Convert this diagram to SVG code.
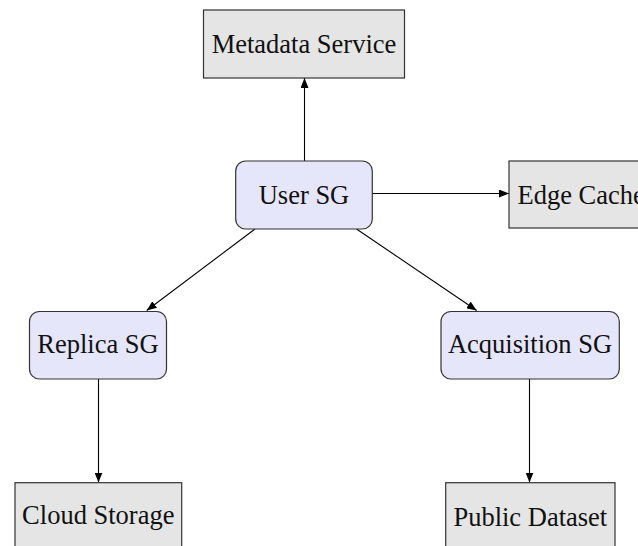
<svg xmlns="http://www.w3.org/2000/svg" width="638" height="546" viewBox="0 0 638 546">
<style>
.box{fill:#e5e5e5;stroke:#333;stroke-width:1.2}
.sg{fill:#e6e6fa;stroke:#333;stroke-width:1.2}
.t{font-family:"Liberation Serif","Times New Roman",serif;font-size:26.5px;fill:#111;text-anchor:middle}
.e{stroke:#000;stroke-width:1.1;fill:none;marker-end:url(#ah)}
</style>
<defs>
<marker id="ah" viewBox="0 0 10 8" refX="10" refY="4" markerWidth="10" markerHeight="8" markerUnits="userSpaceOnUse" orient="auto">
<path d="M0,0 L10,4 L0,8 Z" fill="#000"/>
</marker>
</defs>
<rect width="638" height="546" fill="#fff"/>
<g id="connectors">
<line class="e" x1="304.5" y1="161" x2="304.5" y2="78"/>
<line class="e" x1="372" y1="193.5" x2="509" y2="193.5"/>
<line class="e" x1="255" y1="229" x2="146.7" y2="310.5"/>
<line class="e" x1="356.5" y1="229" x2="476.7" y2="310.5"/>
<line class="e" x1="98.5" y1="379" x2="98.5" y2="482.5"/>
<line class="e" x1="529.5" y1="379" x2="529.5" y2="482.5"/>
</g>
<g id="metadata">
<rect class="box" x="203.5" y="10" width="201" height="68"/>
<text class="t" x="304" y="53">Metadata Service</text>
</g>
<g id="user">
<rect class="sg" x="235.7" y="161" width="136.6" height="68" rx="10"/>
<text class="t" x="304" y="204">User SG</text>
</g>
<g id="edge">
<rect class="box" x="509" y="161" width="160" height="67"/>
<text class="t" x="517.5" y="204" style="text-anchor:start">Edge Cache</text>
</g>
<g id="replica">
<rect class="sg" x="29.5" y="311.5" width="137" height="67.5" rx="10"/>
<text class="t" x="98" y="353">Replica SG</text>
</g>
<g id="acquisition">
<rect class="sg" x="441" y="311.5" width="178.3" height="67.5" rx="10"/>
<text class="t" x="530" y="353">Acquisition SG</text>
</g>
<g id="cloud">
<rect class="box" x="15" y="482.7" width="166.7" height="80"/>
<text class="t" x="98.3" y="524">Cloud Storage</text>
</g>
<g id="public">
<rect class="box" x="445.7" y="482.7" width="169.3" height="80"/>
<text class="t" x="530.3" y="526">Public Dataset</text>
</g>
</svg>
